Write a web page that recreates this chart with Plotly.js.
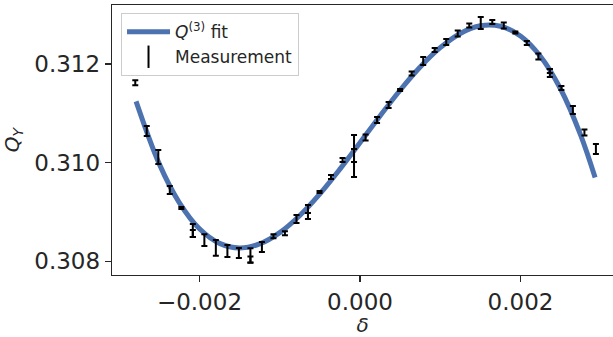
<!DOCTYPE html>
<html>
<head>
<meta charset="utf-8">
<script src="https://cdn.plot.ly/plotly-3.0.1.min.js"></script>
<style>html,body{margin:0;padding:0;background:#fff;}#chart{width:613px;height:337px;}</style>
</head>
<body>
<div id="chart"></div>
<script>
// Measurements (delta, Q_Y, error)
const measDelta = [-0.002800, -0.002657, -0.002513, -0.002370, -0.002226, -0.002083, -0.002083, -0.001939, -0.001796, -0.001652, -0.001509, -0.001365, -0.001365, -0.001222, -0.001078, -0.000935, -0.000791, -0.000648, -0.000648, -0.000504, -0.000361, -0.000217, -0.000074, -0.000074, 0.000070, 0.000213, 0.000357, 0.000500, 0.000644, 0.000788, 0.000931, 0.001075, 0.001218, 0.001362, 0.001505, 0.001649, 0.001792, 0.001936, 0.002079, 0.002223, 0.002366, 0.002366, 0.002510, 0.002653, 0.002797, 0.002940];
const measQ = [0.311620, 0.310642, 0.310115, 0.309447, 0.309082, 0.308626, 0.308565, 0.308431, 0.308272, 0.308211, 0.308170, 0.308120, 0.308039, 0.308292, 0.308509, 0.308570, 0.308859, 0.309001, 0.308920, 0.309406, 0.309710, 0.310055, 0.310136, 0.310146, 0.310511, 0.310865, 0.311169, 0.311473, 0.311808, 0.312061, 0.312284, 0.312446, 0.312618, 0.312780, 0.312831, 0.312851, 0.312780, 0.312638, 0.312426, 0.312152, 0.311818, 0.311858, 0.311514, 0.311068, 0.310612, 0.310278];
const measErr = [0.000050, 0.000100, 0.000140, 0.000080, 0.000020, 0.000132, 0.000071, 0.000120, 0.000160, 0.000120, 0.000100, 0.000148, 0.000060, 0.000100, 0.000040, 0.000040, 0.000080, 0.000142, 0.000060, 0.000020, 0.000040, 0.000040, 0.000425, 0.000132, 0.000060, 0.000060, 0.000060, 0.000020, 0.000040, 0.000080, 0.000040, 0.000060, 0.000060, 0.000040, 0.000120, 0.000040, 0.000060, 0.000020, 0.000040, 0.000060, 0.000081, 0.000040, 0.000040, 0.000080, 0.000060, 0.000100];

// Q^(3) fit curve
const fitDelta = [-0.00279, -0.00250, -0.00225, -0.00200, -0.00175, -0.00150, -0.00125, -0.00100, -0.00075, -0.00050, -0.00025, 0.00000, 0.00025, 0.00050, 0.00075, 0.00100, 0.00125, 0.00150, 0.00175, 0.00200, 0.00225, 0.00250, 0.00275, 0.00293];
const fitQ = [0.311244, 0.309971, 0.309187, 0.308660, 0.308365, 0.308272, 0.308354, 0.308583, 0.308930, 0.309368, 0.309870, 0.310405, 0.310947, 0.311468, 0.311938, 0.312331, 0.312620, 0.312774, 0.312765, 0.312568, 0.312153, 0.311493, 0.310558, 0.309698];

const xTicks = [-0.002, 0.000, 0.002];
const yTicks = [0.308, 0.310, 0.312];

const FONT = 'DejaVu Sans, sans-serif';
const INK = '#262626';

const traces = [
  {
    x: fitDelta, y: fitQ, type: 'scatter', mode: 'lines',
    line: {color: '#4c72b0', width: 5, shape: 'spline'},
    name: '<i>Q</i><sup>(3)</sup> fit'
  },
  {
    x: measDelta, y: measQ, type: 'scatter', mode: 'markers',
    marker: {size: 1, color: 'rgba(0,0,0,0)'},
    error_y: {type: 'data', array: measErr, visible: true, color: '#000', thickness: 2, width: 3},
    showlegend: false
  },
  {
    x: [null], y: [null], type: 'scatter', mode: 'markers',
    marker: {symbol: 'line-ns-open', size: 16, color: '#000', line: {color: '#000', width: 2}},
    name: 'Measurement'
  }
];

const layout = {
  width: 613, height: 337,
  margin: {l: 112, r: 0, t: 5, b: 62},
  paper_bgcolor: '#fff', plot_bgcolor: '#fff',
  font: {family: FONT, color: INK},
  showlegend: true,
  legend: {
    x: 0.018, y: 0.97, xanchor: 'left', yanchor: 'top',
    bgcolor: 'rgba(255,255,255,0.8)', bordercolor: '#cccccc', borderwidth: 1,
    font: {family: FONT, size: 17, color: INK},
    itemwidth: 43
  },
  xaxis: {
    range: [-0.003090, 0.003153],
    tickvals: xTicks, tickformat: '.3f',
    tickfont: {family: FONT, size: 23, color: INK},
    ticks: 'outside', ticklen: 6, tickwidth: 1.25, tickcolor: INK,
    showline: true, linecolor: INK, linewidth: 1.25, mirror: true,
    showgrid: false, zeroline: false,
    title: {text: '<i>δ</i>', font: {family: FONT, size: 20, color: INK}, standoff: 6}
  },
  yaxis: {
    range: [0.307724, 0.313196],
    tickvals: yTicks, tickformat: '.3f',
    tickfont: {family: FONT, size: 23, color: INK},
    ticks: 'outside', ticklen: 6, tickwidth: 1.25, tickcolor: INK,
    showline: true, linecolor: INK, linewidth: 1.25,
    showgrid: false, zeroline: false, automargin: true,
    title: {text: '<i>Q</i><sub><i>Y</i></sub>', font: {family: FONT, size: 20, color: INK}, standoff: 9}
  }
};

Plotly.newPlot('chart', traces, layout, {displayModeBar: false, staticPlot: true});
</script>
</body>
</html>
